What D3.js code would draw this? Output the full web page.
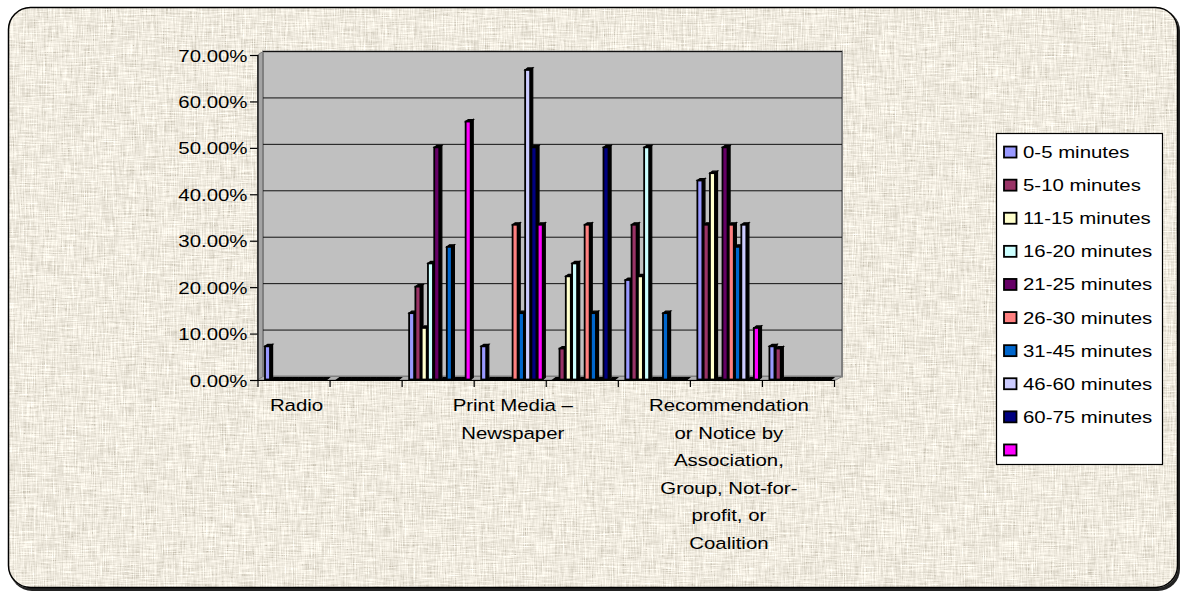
<!DOCTYPE html>
<html><head><meta charset="utf-8">
<script src="https://cdn.jsdelivr.net/npm/d3@7"></script>
<style>
body{margin:0;background:#fff}
svg{display:block}
text{font-family:"Liberation Sans",Arial,sans-serif;fill:#000}
</style>
</head><body>
<svg id="chart" width="1184" height="595"></svg>
<script>
// ---------- data ----------
const categories = ["Radio","Category 2","Category 3","Print Media – Newspaper","Category 5","Category 6",
  "Recommendation or Notice by Association, Group, Not-for-profit, or Coalition","Category 8"];
const categoryLabelLines = [["Radio"],[],[],["Print Media –","Newspaper"],[],[],
  ["Recommendation","or Notice by","Association,","Group, Not-for-","profit, or","Coalition"],[]];
const seriesNames = ["0-5 minutes","5-10 minutes","11-15 minutes","16-20 minutes","21-25 minutes",
  "26-30 minutes","31-45 minutes","46-60 minutes","60-75 minutes",""];
const seriesColors = ["#9999FF","#993366","#FFFFCC","#CCFFFF","#660066","#FF8080","#0066CC","#CCCCFF","#000080","#FF00FF"];
const v0_5   = [0.0714,0,0.1429,0.0714,0,0.2143,0.4286,0.0714];
const v5_10  = [0,0,0.2000,0,0.0667,0.3333,0.3333,0.0667];
const v11_15 = [0,0,0.1111,0,0.2222,0.2222,0.4444,0];
const v16_20 = [0,0,0.2500,0,0.2500,0.5000,0,0];
const v21_25 = [0,0,0.5000,0,0,0,0.5000,0];
const v26_30 = [0,0,0,0.3333,0.3333,0,0.3333,0];
const v31_45 = [0,0,0.2857,0.1429,0.1429,0.1429,0.2857,0];
const v46_60 = [0,0,0,0.6667,0,0,0.3333,0];
const v60_75 = [0,0,0,0.5000,0.5000,0,0,0];
const vBlank = [0,0,0.5556,0.3333,0,0,0.1111,0];
const seriesValues = [v0_5,v5_10,v11_15,v16_20,v21_25,v26_30,v31_45,v46_60,v60_75,vBlank];
const yTicks = [0,0.1,0.2,0.3,0.4,0.5,0.6,0.7];

// ---------- setup ----------
const svg = d3.select("#chart");
const defs = svg.append("defs");
const SX = 1.2; // horizontal text stretch seen in the reference

const f = defs.append("filter").attr("id","canvas").attr("x",0).attr("y",0).attr("width",1184).attr("height",595)
  .attr("filterUnits","userSpaceOnUse");
f.append("feTurbulence").attr("type","fractalNoise").attr("baseFrequency","1.1 0.05").attr("numOctaves",3).attr("seed",3).attr("result","h");
f.append("feTurbulence").attr("type","fractalNoise").attr("baseFrequency","0.05 1.1").attr("numOctaves",3).attr("seed",9).attr("result","v");
f.append("feComposite").attr("in","h").attr("in2","v").attr("operator","arithmetic").attr("k2",0.6).attr("k3",0.6).attr("k4",-0.1).attr("result","n");
f.append("feColorMatrix").attr("in","n").attr("type","matrix")
  .attr("values","0.75 0 0 0 0.57  0.75 0 0 0 0.53  0.75 0 0 0 0.44  0 0 0 0 1");

defs.append("clipPath").attr("id","round").append("rect")
  .attr("x",8).attr("y",7).attr("width",1170).attr("height",581).attr("rx",22);

// shadow + background
svg.append("rect").attr("x",10).attr("y",9).attr("width",1170).attr("height",582).attr("rx",22).attr("fill","#222");
svg.append("rect").attr("x",8).attr("y",7).attr("width",1170).attr("height",581)
  .attr("clip-path","url(#round)").attr("filter","url(#canvas)").attr("fill","#ddd");
svg.append("rect").attr("x",8.5).attr("y",7.5).attr("width",1169).attr("height",580).attr("rx",22)
  .attr("fill","none").attr("stroke","#000").attr("stroke-width",1.5);

// ---------- scales ----------
const y = d3.scaleLinear().domain([0,0.7]).range([380,55]);
const xEdge = d3.scaleLinear().domain([0,categories.length]).range([257.5,834]);
const x = d3.scaleBand().domain(d3.range(categories.length)).range([257.5,834]).padding(0);
const xs = d3.scaleBand().domain(d3.range(seriesNames.length)).range([6.5,6.5+62.8]).padding(0);

const DX = 5.5, DY = 3.5; // wall depth
const g = svg.append("g");
g.append("path").attr("d",`M${xEdge(0)},${y(0.7)}L${xEdge(0)+DX},${y(0.7)-DY}L${xEdge(0)+DX},${y(0)-DY}L${xEdge(0)},${y(0)}Z`)
  .attr("fill","#a4a4a4").attr("stroke","#808080").attr("stroke-width",1);
g.append("rect").attr("x",xEdge(0)+DX).attr("y",y(0.7)-DY)
  .attr("width",xEdge(8)+2.5-xEdge(0)).attr("height",y(0)-y(0.7))
  .attr("fill","#c0c0c0").attr("stroke","#808080").attr("stroke-width",2);
g.append("path").attr("d",`M${xEdge(0)},${y(0)}L${xEdge(0)+DX},${y(0)-DY}L${xEdge(8)+DX+2.5},${y(0)-DY}L${xEdge(8)+2},${y(0)}Z`)
  .attr("fill","#b0b0b0").attr("stroke","#808080").attr("stroke-width",1);

g.selectAll("line.grid").data(yTicks.slice(1)).join("line").attr("class","grid")
  .attr("x1",xEdge(0)+DX).attr("x2",xEdge(8)+DX+2.5)
  .attr("y1",d=>y(d)-DY).attr("y2",d=>y(d)-DY)
  .attr("stroke","#111").attr("stroke-width",1);

// ---------- bars ----------
const FW = 5, BD = 2.6, BH = 2;
const BASE = -0.5;
const bars = svg.append("g");
categories.forEach((c,ci)=>{
  seriesValues.forEach((vals,si)=>{
    const v = vals[ci];
    const x0 = x(ci) + xs(si) + 1;
    const yt = y(v) + BASE, yb = y(0) + BASE;
    const gb = bars.append("g");
    gb.append("path").attr("d",`M${x0+FW},${yt}L${x0+FW+BD},${yt-BH}L${x0+FW+BD},${yb-BH}L${x0+FW},${yb}Z`)
      .attr("fill","#000").attr("stroke","#000").attr("stroke-width",1.2);
    gb.append("path").attr("d",`M${x0},${yt}L${x0+BD},${yt-BH}L${x0+FW+BD},${yt-BH}L${x0+FW},${yt}Z`)
      .attr("fill","#000").attr("stroke","#000").attr("stroke-width",1.2);
    gb.append("rect").attr("x",x0).attr("y",yt).attr("width",FW).attr("height",yb-yt)
      .attr("fill",seriesColors[si]).attr("stroke","#000").attr("stroke-width",1.8);
  });
});

// ---------- axes ----------
const yAxis = svg.append("g").attr("transform",`translate(${xEdge(0)},0)`)
  .call(d3.axisLeft(y).tickValues(yTicks).tickFormat(d3.format(".2%")).tickSize(7.5).tickPadding(0));
yAxis.select(".domain").attr("stroke","#000").attr("stroke-width",1.2);
yAxis.selectAll(".tick line").attr("stroke","#000").attr("stroke-width",1.2);
yAxis.selectAll(".tick text").attr("x",0).attr("dy",null)
  .attr("transform",`translate(-10,6) scale(${SX},1)`).attr("font-size",17).attr("fill","#000")
  .style("font-family","'Liberation Sans',Arial,sans-serif");

const xAxis = svg.append("g").attr("transform",`translate(0,${y(0)})`)
  .call(d3.axisBottom(xEdge).tickValues(d3.range(categories.length+1)).tickFormat("").tickSize(7).tickSizeOuter(0));
xAxis.select(".domain").attr("stroke","#000").attr("stroke-width",1.2);
xAxis.selectAll(".tick line").attr("stroke","#000").attr("stroke-width",1.2);

const lbl = svg.append("g");
categoryLabelLines.forEach((lines,ci)=>{
  const cx = x(ci) + x.bandwidth()/2 + 3;
  lines.forEach((t,li)=>{
    lbl.append("text").attr("text-anchor","middle").attr("font-size",17)
      .attr("transform",`translate(${cx},${411 + li*27.5}) scale(${SX},1)`).text(t);
  });
});

// ---------- legend ----------
const lg = svg.append("g");
lg.append("rect").attr("x",996.5).attr("y",133.5).attr("width",166).attr("height",331)
  .attr("fill","#fff").attr("stroke","#000").attr("stroke-width",1.2);
const legendRow = d3.scaleBand().domain(d3.range(seriesNames.length)).range([134.5,465.5]);
seriesNames.forEach((n,i)=>{
  const cy = legendRow(i) + legendRow.bandwidth()/2 + 1;
  lg.append("rect").attr("x",1004).attr("y",cy-5.5).attr("width",12.5).attr("height",11)
    .attr("fill",seriesColors[i]).attr("stroke","#000").attr("stroke-width",1.8);
  lg.append("text").attr("font-size",17)
    .attr("transform",`translate(1023,${cy+6}) scale(${SX},1)`).text(n);
});
</script>
</body></html>
